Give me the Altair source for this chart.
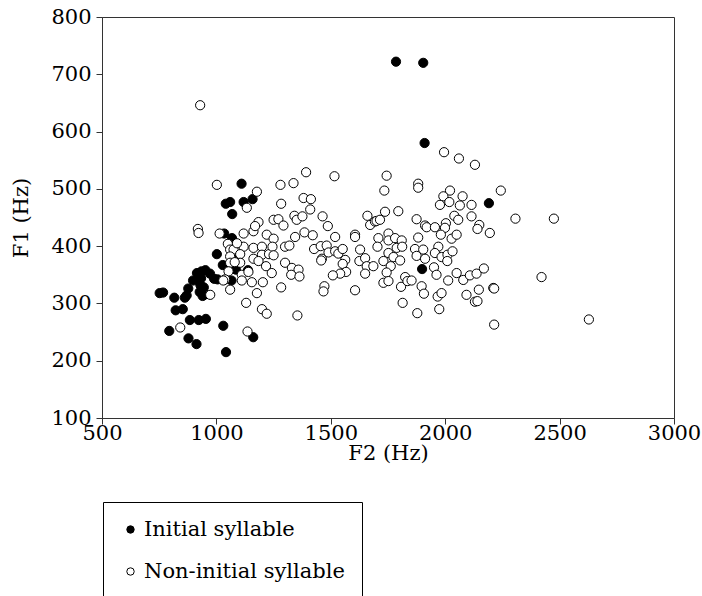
import altair as alt
import pandas as pd

# Initial syllable (filled)
init_f2 = [752, 767, 816, 822, 853, 862, 877, 870, 898, 915, 935, 952, 972, 990, 1005,
           933, 930, 927, 940, 952, 945, 884, 923, 954, 794, 878, 913, 1030, 1161, 1042,
           1002, 1028, 1034, 1068, 1066, 1085, 1138, 1092, 1110, 1041, 1060, 1119, 1158,
           1069, 1785, 1904, 1910, 2191, 1899]
init_f1 = [318, 319, 310, 288, 290, 310, 326, 314, 340, 353, 356, 358, 352, 343, 342,
           344, 332, 320, 313, 316, 328, 271, 271, 273, 252, 239, 229, 261, 241, 215,
           386, 367, 422, 414, 340, 359, 358, 378, 509, 474, 477, 477, 482,
           456, 722, 720, 580, 475, 360]

# Non-initial syllable (open)
non_f2 = [1002, 919, 922, 1177, 1133, 1014, 1050, 1060, 1119, 1162, 1184, 1169, 1220, 1075,
          1119, 1162, 1199, 1060, 1104, 1162, 1199, 1184, 1217, 1104, 1060, 1053, 1111, 1038,
          1060, 1111, 1155, 1203, 1177, 1130, 1199, 1220, 973, 842, 1136, 929, 1030, 1080,
          1140, 1090, 1230,
          1392, 1516, 1280, 1337, 1283, 1381, 1413, 1410, 1250, 1271, 1293, 1341, 1351, 1376,
          1464, 1487, 1385, 1421, 1519, 1250, 1245, 1250, 1300, 1319, 1344, 1300, 1330, 1359,
          1327, 1363, 1242, 1283, 1427, 1456, 1482, 1461, 1458, 1490, 1519, 1533, 1552, 1563,
          1552, 1567, 1541, 1509, 1472, 1468, 1606, 1606, 1628, 1625, 1650, 1657, 1686, 1650,
          1606, 1660, 1672, 1693, 1700, 1715, 1737, 1744, 1734, 1795, 1708, 1704, 1752, 1752,
          1781, 1810, 1788, 1752, 1774, 1803, 1730, 1762, 1744, 1730, 1752, 1807, 1825, 1835,
          1814, 1354, 1812,
          1995, 2060, 2130, 1882, 1882, 2243, 2021, 1992, 2076, 1977, 2018, 2064, 2115, 1875,
          1912, 1919, 1955, 2003, 1999, 2040, 2057, 2115, 2149, 2141, 2195, 2307, 2475, 1882,
          1981, 2028, 2050, 1868, 1904, 1875, 1912, 1970, 1955, 1984, 2010, 2032, 2009, 1951,
          1962, 2013, 2050, 2079, 2108, 2137, 2169, 1853, 1897, 1907, 1967, 1984, 2093, 2147,
          2210, 2214, 2130, 2141, 1974, 1878, 2214, 2421, 2628]
non_f1 = [507, 430, 423, 495, 467, 422, 404, 394, 422, 426, 442, 435, 420, 394,
          399, 397, 399, 382, 386, 378, 385, 374, 365, 371, 371, 356, 350, 342,
          324, 340, 337, 337, 318, 301, 290, 282, 315, 258, 251, 646, 340, 372,
          355, 405, 386,
          529, 522, 507, 510, 474, 484, 482, 464, 446, 447, 436, 453, 446, 452,
          452, 435, 424, 419, 416, 413, 399, 384, 399, 401, 416, 371, 362, 359,
          350, 347, 353, 328, 395, 400, 401, 378, 375, 389, 391, 387, 395, 376,
          369, 355, 352, 349, 330, 321, 420, 416, 394, 374, 379, 365, 365, 352,
          323, 453, 437, 443, 444, 446, 460, 523, 497, 461, 414, 399, 422, 410,
          414, 410, 397, 388, 381, 375, 374, 365, 354, 336, 339, 329, 346, 339,
          301, 279, 399,
          564, 553, 542, 509, 502, 497, 497, 487, 487, 472, 477, 471, 472, 447,
          436, 433, 433, 440, 432, 453, 446, 452, 437, 430, 423, 448, 448, 415,
          420, 413, 420, 395, 394, 383, 378, 399, 388, 381, 385, 391, 374, 363,
          350, 340, 353, 341, 349, 352, 361, 340, 330, 317, 312, 318, 315, 324,
          327, 326, 303, 304, 290, 283, 263, 346, 272]

groups = ["Initial syllable", "Non-initial syllable"]
x_ticks = [500, 1000, 1500, 2000, 2500, 3000]
y_ticks = [100, 200, 300, 400, 500, 600, 700, 800]

df = pd.concat([
    pd.DataFrame({"F2": init_f2, "F1": init_f1, "group": groups[0]}),
    pd.DataFrame({"F2": non_f2, "F1": non_f1, "group": groups[1]}),
], ignore_index=True)

FONT = "'DejaVu Serif', 'Liberation Serif', 'Times New Roman', serif"
FS = 21

chart = alt.Chart(df).mark_point(
    shape="circle", filled=True, size=85, stroke="black", strokeWidth=1, opacity=1
).encode(
    x=alt.X("F2:Q", title="F2 (Hz)",
            scale=alt.Scale(domain=[500, 3000], nice=False, zero=False),
            axis=alt.Axis(values=x_ticks, format="d", grid=False, tickSize=6,
                          labelPadding=-2, titlePadding=-1, labelFlush=False)),
    y=alt.Y("F1:Q", title="F1 (Hz)",
            scale=alt.Scale(domain=[100, 800], nice=False, zero=False),
            axis=alt.Axis(values=y_ticks, format="d", grid=False, tickSize=6,
                          labelPadding=5, titlePadding=19)),
    fill=alt.Fill("group:N", title=None,
                  scale=alt.Scale(domain=groups, range=["black", "white"]),
                  legend=alt.Legend(orient="none", legendX=1, legendY=485,
                                    strokeColor="black", fillColor="white",
                                    padding=17, rowPadding=20, labelOffset=3,
                                    symbolType="circle", symbolSize=55,
                                    symbolStrokeColor="black", symbolStrokeWidth=1,
                                    labelFont=FONT, labelFontSize=FS,
                                    labelColor="black", labelLimit=400)),
).properties(
    width=572, height=401,
    autosize=alt.AutoSizeParams(type="none"),
    padding={"left": 102, "top": 17, "right": 28, "bottom": 178},
).configure(
    font=FONT
).configure_view(
    stroke="#333", strokeWidth=1
).configure_axis(
    domainColor="#333", tickColor="#333", labelFont=FONT, titleFont=FONT,
    labelFontSize=FS, titleFontSize=FS, labelColor="black", titleColor="black",
    titleFontWeight="normal"
).configure_legend(
    labelFont=FONT
)

chart.save("out.html", embed_options={"renderer": "svg", "actions": False})
